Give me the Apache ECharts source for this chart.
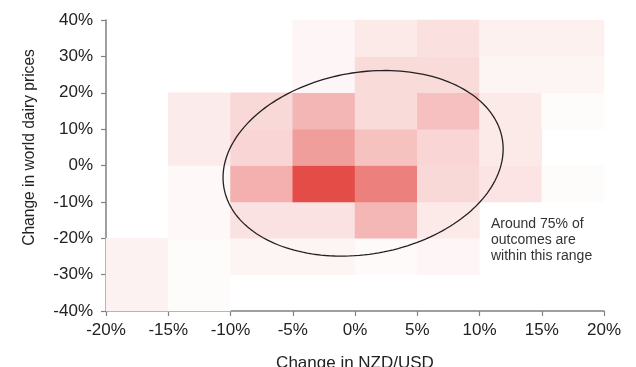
<!DOCTYPE html>
<html>
<head>
<meta charset="utf-8">
<script src="https://cdn.jsdelivr.net/npm/echarts@6/dist/echarts.min.js"></script>
<style>html,body{margin:0;padding:0;background:#fff}#c{width:636px;height:367px}</style>
</head>
<body>
<div id="c"></div>
<script>
// NZD/USD change bins (lower bound, %)
var xBins = ['-20', '-15', '-10', '-5', '0', '5', '10', '15'];
// dairy price change bins (lower bound, %)
var yBins = ['-40', '-30', '-20', '-10', '0', '10', '20', '30'];
// relative frequency per cell (0 = no outcomes); one array per dairy-price row, columns follow xBins
var rowMinus40 = [7, 2, 0, 0, 0, 0, 0, 0];
var rowMinus30 = [7, 2, 6, 6, 3, 5, 0, 0];
var rowMinus20 = [0, 4, 16, 16, 40, 12, 0, 0];
var rowMinus10 = [0, 4, 44, 100, 71, 21, 15, 2];
var row0 = [0, 11, 23, 54, 34, 23, 12, 0];
var row10 = [0, 11, 21, 41, 20, 35, 12, 2];
var row20 = [0, 0, 0, 5, 20, 20, 6, 6];
var row30 = [0, 0, 0, 5, 12, 17, 8, 8];
var xTickMin = -20, xTickMax = 20, xTickStep = 5;
var yTickMin = -40, yTickMax = 40, yTickStep = 10;
// ellipse annotation: centre (NZD/USD %, dairy %), semi-axes in NZD/USD % units, tilt in degrees
var ellipseCentre = [0.65, 0.6];
var ellipseAxes = [11.35, 7.3];
var ellipseTilt = 10;
var noteLines = ['Around 75% of', 'outcomes are', 'within this range'];

var rows = [rowMinus40, rowMinus30, rowMinus20, rowMinus10, row0, row10, row20, row30];
var heatData = [];
rows.forEach(function (r, yi) {
  r.forEach(function (v, xi) { if (v > 0) heatData.push([xi, yi, v]); });
});

var chart = echarts.init(document.getElementById('c'));
var font = '"Liberation Sans", Arial, sans-serif';
var axisCol = '#808080';
chart.setOption({
  animation: false,
  grid: { left: 106, top: 20, right: 32, bottom: 56, containLabel: false, outerBoundsMode: 'none' },
  visualMap: {
    show: false, min: 0, max: 100, seriesIndex: 0, dimension: 2,
    inRange: { color: ['#ffffff', '#e34c47'] }
  },
  xAxis: [
    { type: 'category', data: xBins, show: false, boundaryGap: true },
    {
      type: 'value', min: xTickMin, max: xTickMax, interval: xTickStep, position: 'bottom',
      axisLine: { show: true, lineStyle: { color: axisCol, width: 1.5 } },
      axisTick: { show: true, length: 5, lineStyle: { color: axisCol, width: 1.2 } },
      splitLine: { show: false },
      axisLabel: { formatter: '{value}%', color: '#222', fontSize: 17, fontFamily: font, margin: 11 },
      name: 'Change in NZD/USD', nameLocation: 'middle', nameGap: 44,
      nameTextStyle: { color: '#222', fontSize: 17, fontFamily: font }
    }
  ],
  yAxis: [
    { type: 'category', data: yBins, show: false, boundaryGap: true },
    {
      type: 'value', min: yTickMin, max: yTickMax, interval: yTickStep, position: 'left',
      axisLine: { show: true, lineStyle: { color: axisCol, width: 1.5 } },
      axisTick: { show: true, length: 5, lineStyle: { color: axisCol, width: 1.2 } },
      splitLine: { show: false },
      axisLabel: { formatter: '{value}%', color: '#222', fontSize: 17, fontFamily: font, margin: 13 },
      name: 'Change in world dairy prices', nameLocation: 'middle', nameGap: 68,
      nameTextStyle: { color: '#222', fontSize: 15.6, fontFamily: font, padding: [0, 0, 0, 36] }
    }
  ],
  series: [
    {
      type: 'heatmap', xAxisIndex: 0, yAxisIndex: 0, data: heatData,
      itemStyle: { borderWidth: 0 }, emphasis: { disabled: true }, silent: true
    },
    {
      type: 'custom', xAxisIndex: 1, yAxisIndex: 1, silent: true, z: 5,
      data: [ellipseCentre],
      renderItem: function (params, api) {
        var c = api.coord([api.value(0), api.value(1)]);
        var unit = api.size([1, 1])[0];
        var a = ellipseAxes[0] * unit, b = ellipseAxes[1] * unit;
        var t = -ellipseTilt * Math.PI / 180;
        var pts = [];
        for (var i = 0; i < 180; i++) {
          var th = i / 180 * Math.PI * 2;
          var ex = a * Math.cos(th), ey = b * Math.sin(th);
          pts.push([c[0] + ex * Math.cos(t) - ey * Math.sin(t), c[1] + ex * Math.sin(t) + ey * Math.cos(t)]);
        }
        return { type: 'polygon', shape: { points: pts }, style: { fill: 'transparent', stroke: '#222', lineWidth: 1.3 } };
      }
    }
  ],
  graphic: [{
    type: 'text', left: 491, top: 216,
    style: { text: noteLines.join('\n'), fill: '#333', font: '14px ' + font, lineHeight: 16 }
  }]
});
</script>
</body>
</html>
